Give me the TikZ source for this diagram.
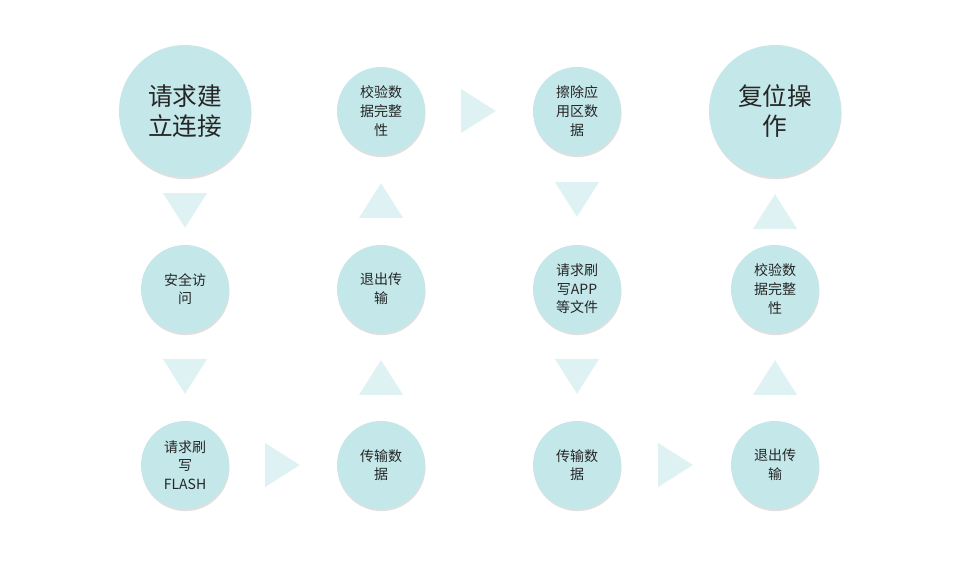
\documentclass[tikz,border=0pt]{standalone}
\usepackage{fontspec}
\setmainfont{Noto Sans CJK SC}
\usetikzlibrary{shapes.geometric,shadows}
\definecolor{stepfill}{HTML}{C4E7E9}
\definecolor{trifill}{HTML}{DFF2F3}
\definecolor{steptext}{HTML}{262626}

\begin{document}
\begin{tikzpicture}[x=0.75pt,y=-0.75pt,
                   stepnode/.style={circle,fill=stepfill,inner sep=0pt,outer sep=0pt,
                     text=steptext,align=center,
                     drop shadow={shadow xshift=0.4pt,shadow yshift=-1.6pt,opacity=.25}},
                   small/.style={stepnode,minimum size=66pt,font=\fontsize{10.5}{14}\selectfont},
                   big/.style={stepnode,minimum size=99pt,font=\fontsize{18.5}{22}\selectfont},
                   flowtri/.style={isosceles triangle,isosceles triangle stretches,
                     fill=trifill,inner sep=0pt,minimum width=33pt,minimum height=26pt,
                     sloped,allow upside down,xshift=-4.3pt}]
\useasboundingbox (0,0) rectangle (960,564);
% first column
\node[big]   (connect)  at (185,111) {请求建\\立连接};
\node[small] (access)   at (185,289) {安全访\\问};
\node[small] (flashreq) at (185,465) {请求刷\\写\\FLASH};
% second column
\node[small] (send)     at (381,465) {传输数\\据};
\node[small] (quit)     at (381,289) {退出传\\输};
\node[small] (check)    at (381,111) {校验数\\据完整\\性};
% third column
\node[small] (erase)    at (577,111) {擦除应\\用区数\\据};
\node[small] (apprq)    at (577,289) {请求刷\\写APP\\等文件};
\node[small] (sendb)    at (577,465) {传输数\\据};
% fourth column
\node[small] (quitb)    at (775,465) {退出传\\输};
\node[small] (checkb)   at (775,289) {校验数\\据完整\\性};
\node[big]   (reset)    at (775,111) {复位操\\作};
% triangles between the steps
\foreach \a/\b in {connect/access,access/flashreq,flashreq/send,send/quit,quit/check,
                   check/erase,erase/apprq,apprq/sendb,sendb/quitb,quitb/checkb,checkb/reset}{
  \path (\a) -- node[flowtri] {} (\b);
}
\end{tikzpicture}
\end{document}
